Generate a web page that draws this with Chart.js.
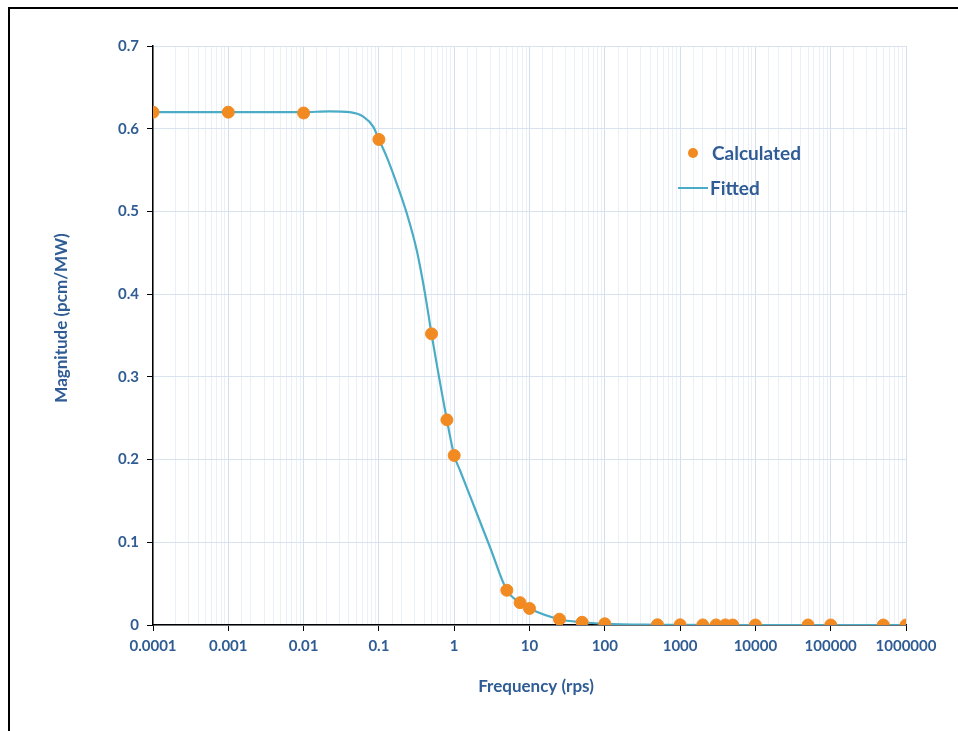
<!DOCTYPE html>
<html>
<head>
<meta charset="utf-8">
<script src="https://cdn.jsdelivr.net/npm/chart.js@4.4.1/dist/chart.umd.min.js"></script>
<style>
  html, body { margin: 0; padding: 0; background: #fff; }
  #wrap { position: relative; width: 958px; height: 731px; overflow: hidden; background: #fff; }
  #frame { position: absolute; left: 8px; top: 7px; right: -10px; bottom: -10px;
           border-top: 2px solid #000; border-left: 2px solid #000; pointer-events: none; }
  canvas { position: absolute; left: 0; top: 0; }
</style>
</head>
<body>
<div id="wrap">
  <canvas id="chart" width="958" height="731"></canvas>
  <div id="frame"></div>
</div>
<script>
// Calculated frequency response points (rad/s vs pcm/MW)
const calcFreq = [0.0001, 0.001, 0.01, 0.1, 0.5, 0.8, 1, 5, 7.5, 10, 25, 50, 100,
                  500, 1000, 2000, 3000, 4000, 5000, 10000, 50000, 100000, 500000, 1000000];
const calcMag  = [0.620, 0.620, 0.619, 0.587, 0.352, 0.248, 0.205, 0.042, 0.027, 0.020, 0.007, 0.0033, 0.0015,
                  0.0003, 0.0002, 0.0001, 0.0001, 0.0001, 0, 0, 0, 0, 0, 0];

// Fitted transfer-function curve
const fitFreq = [0.0001, 0.001, 0.01, 0.022, 0.041, 0.062, 0.084, 0.1, 0.127, 0.172, 0.234, 0.318, 0.409,
                 0.5, 0.8, 1, 1.2, 2, 3, 5, 7.5, 10, 25, 50, 100, 500, 1000, 10000, 100000, 1000000];
const fitMag  = [0.620, 0.620, 0.620, 0.621, 0.620, 0.6146, 0.6025, 0.587, 0.566, 0.534, 0.498, 0.453, 0.401,
                 0.352, 0.248, 0.205, 0.1865, 0.1348, 0.0937, 0.042, 0.027, 0.020, 0.007, 0.0033, 0.0015,
                 0.0003, 0.0001, 0, 0, 0];

// Decade tick labels on the frequency axis
const xTickLabels = ['0.0001', '0.001', '0.01', '0.1', '1', '10', '100', '1000', '10000', '100000', '1000000'];

const seriesNames = ['Calculated', 'Fitted'];
const axisTitles = ['Frequency (rps)', 'Magnitude (pcm/MW)'];
const textBlue = '#2F5C94';
const orange = '#F28A22';
const teal = '#4BACC6';

function decadeIndex(v) {
  const e = Math.log10(v);
  const r = Math.round(e);
  return Math.abs(e - r) < 1e-6 ? r + 4 : -1;
}

// Legend inside the plot area and the two axis titles
const annotationsPlugin = {
  id: 'innerLegend',
  afterDraw(chart) {
    const { ctx, chartArea } = chart;
    ctx.save();
    ctx.textBaseline = 'middle';

    const x0 = chartArea.left + 540;
    const y0 = chartArea.top + 107;
    ctx.font = 'bold 19px Lato';
    ctx.beginPath();
    ctx.arc(x0, y0, 5, 0, Math.PI * 2);
    ctx.fillStyle = orange;
    ctx.fill();
    ctx.fillStyle = textBlue;
    ctx.fillText(seriesNames[0], x0 + 19, y0 + 1);
    ctx.strokeStyle = teal;
    ctx.lineWidth = 2;
    ctx.beginPath();
    ctx.moveTo(x0 - 15, y0 + 35);
    ctx.lineTo(x0 + 15, y0 + 35);
    ctx.stroke();
    ctx.fillText(seriesNames[1], x0 + 17, y0 + 36);

    ctx.font = 'bold 17px Lato';
    ctx.textAlign = 'center';
    ctx.fillText(axisTitles[0], chartArea.left + 383, chartArea.bottom + 62);
    ctx.translate(chartArea.left - 91, chartArea.top + 272);
    ctx.rotate(-Math.PI / 2);
    ctx.fillText(axisTitles[1], 0, 0);
    ctx.restore();
  }
};

new Chart(document.getElementById('chart'), {
  type: 'scatter',
  data: {
    datasets: [
      {
        label: seriesNames[0],
        data: calcFreq.map((f, i) => ({ x: f, y: calcMag[i] })),
        backgroundColor: orange,
        borderColor: orange,
        pointRadius: 6,
        pointHoverRadius: 6,
        showLine: false,
        order: 0
      },
      {
        label: seriesNames[1],
        data: fitFreq.map((f, i) => ({ x: f, y: fitMag[i] })),
        borderColor: teal,
        backgroundColor: teal,
        borderWidth: 2.2,
        pointRadius: 0,
        showLine: true,
        cubicInterpolationMode: 'monotone',
        order: 1
      }
    ]
  },
  options: {
    responsive: false,
    animation: false,
    layout: { padding: { left: 50, top: 46, right: 52, bottom: 28 } },
    plugins: { legend: { display: false }, tooltip: { enabled: false } },
    scales: {
      x: {
        type: 'logarithmic',
        min: 0.0001,
        max: 1000000,
        border: { color: '#000', width: 1.5 },
        grid: {
          color: c => decadeIndex(c.tick.value) >= 0 ? '#D3DFEE' : '#EAF0F8',
          lineWidth: 1,
          tickLength: 6,
          tickColor: c => decadeIndex(c.tick.value) >= 0 ? '#000' : 'rgba(0,0,0,0)'
        },
        ticks: {
          autoSkip: false,
          maxRotation: 0,
          padding: 6,
          color: textBlue,
          font: { family: 'Lato', size: 15, weight: 'bold' },
          callback: v => { const i = decadeIndex(v); return i >= 0 ? xTickLabels[i] : ''; }
        },
        title: { display: false },
        afterFit: s => { s.height = 78; }
      },
      y: {
        min: 0,
        max: 0.7,
        border: { color: '#000', width: 1.5 },
        grid: { color: '#D9E3F0', tickLength: 6, tickColor: '#000' },
        ticks: {
          stepSize: 0.1,
          padding: 8,
          color: textBlue,
          font: { family: 'Lato', size: 15, weight: 'bold' }
        },
        title: { display: false },
        afterFit: s => { s.width = 103; }
      }
    }
  },
  plugins: [annotationsPlugin]
});
</script>
</body>
</html>
